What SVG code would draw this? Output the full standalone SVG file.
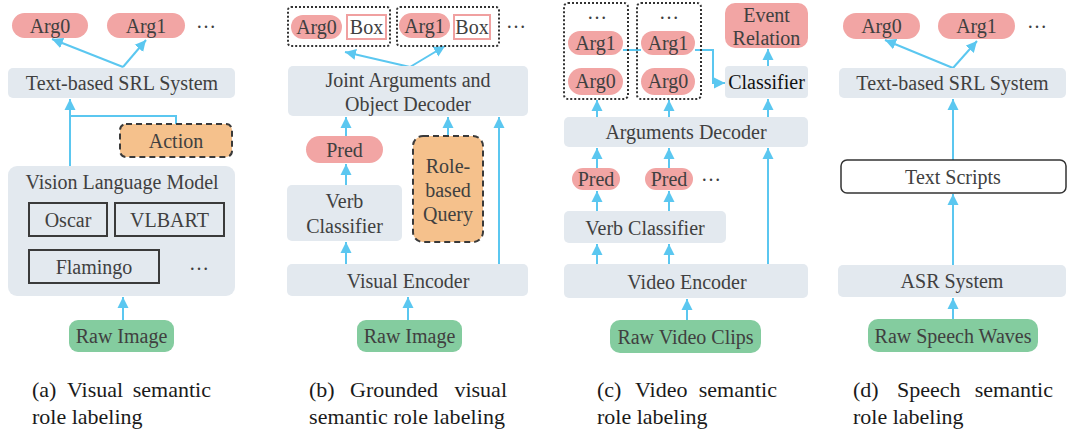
<svg xmlns="http://www.w3.org/2000/svg" width="1067" height="432" viewBox="0 0 1067 432">
<style>
text{font-family:"Liberation Serif","Times New Roman",serif;font-size:20px;fill:#404040;text-anchor:middle}
.cap{font-size:22px;fill:#1a1a1a;text-anchor:start}
.end{text-anchor:end}
.box{fill:#e3e9ef}
.pill{fill:#f2a5a4}
.green{fill:#84cc9f}
.orange{fill:#f5c18c;stroke:#3a3a3a;stroke-width:2;stroke-dasharray:6 4}
.frame{fill:none;stroke:#3a3a3a;stroke-width:2}
.dot{fill:none;stroke:#333;stroke-width:2;stroke-dasharray:2 2}
.obox{fill:#fff;stroke:#f0a0a0;stroke-width:2}
.white{fill:#fff;stroke:#333;stroke-width:1.5}
.c{fill:none;stroke:#5bc7f0;stroke-width:2}
.a{marker-end:url(#ah)}
</style>
<defs>
<marker id="ah" markerUnits="userSpaceOnUse" markerWidth="12" markerHeight="12" viewBox="0 0 12 12" refX="11" refY="6" orient="auto">
<path d="M0,0.5 L11,6 L0,11.5 z" fill="#5bc7f0"/>
</marker>
</defs>

<g id="connectors">
<!-- (a) -->
<path class="c a" d="M123,67 L52,39"/>
<path class="c a" d="M123,67 L146,40"/>
<path class="c a" d="M70,166 L70,99"/>
<path class="c" d="M176,124 L176,116 L70,116"/>
<path class="c a" d="M123,320 L123,297"/>
<!-- (b) -->
<path class="c a" d="M410,67 L345,52"/>
<path class="c a" d="M410,67 L445,46"/>
<path class="c a" d="M346,136 L346,117"/>
<path class="c a" d="M448,136 L448,117"/>
<path class="c a" d="M499,264 L499,117"/>
<path class="c a" d="M346,185 L346,164"/>
<path class="c a" d="M346,264 L346,242"/>
<path class="c a" d="M408,320 L408,297"/>
<!-- (c) -->
<path class="c" d="M623,50 L641,50"/>
<path class="c a" d="M695,50 L713,50 L713,83 L725,83"/>
<path class="c a" d="M768,66 L768,49"/>
<path class="c a" d="M597,117 L597,100"/>
<path class="c a" d="M669,117 L669,100"/>
<path class="c a" d="M768,117 L768,99"/>
<path class="c a" d="M597,168 L597,148"/>
<path class="c a" d="M669,168 L669,148"/>
<path class="c a" d="M768,264 L768,148"/>
<path class="c a" d="M597,211 L597,191"/>
<path class="c a" d="M669,211 L669,191"/>
<path class="c a" d="M597,264 L597,244"/>
<path class="c a" d="M669,264 L669,244"/>
<path class="c a" d="M687,320 L687,299"/>
<!-- (d) -->
<path class="c a" d="M953,68 L885,40"/>
<path class="c a" d="M953,68 L977,41"/>
<path class="c a" d="M953,160 L953,99"/>
<path class="c a" d="M953,265 L953,194"/>
<path class="c a" d="M953,319 L953,298"/>
</g>

<!-- Panel (a) -->
<g id="a-arg0"><rect class="pill" x="12" y="13" width="76" height="25" rx="12.5"/><text x="50" y="33">Arg0</text></g>
<g id="a-arg1"><rect class="pill" x="107" y="13" width="78" height="25" rx="12.5"/><text x="146" y="33">Arg1</text></g>
<g id="a-dots"><text x="206" y="28">…</text></g>
<g id="a-srl"><rect class="box" x="8" y="68" width="227" height="30" rx="5"/><text x="122" y="90">Text-based SRL System</text></g>
<g id="a-action"><rect class="orange" x="120" y="124" width="112" height="33" rx="6"/><text x="176" y="148">Action</text></g>
<g id="a-vlm"><rect class="box" x="8" y="166" width="227" height="130" rx="9"/><text x="122" y="189">Vision Language Model</text></g>
<g id="a-oscar"><rect class="frame" x="29" y="203" width="78" height="33"/><text x="68" y="227">Oscar</text></g>
<g id="a-vlbart"><rect class="frame" x="115" y="203" width="109" height="33"/><text x="169.5" y="227">VLBART</text></g>
<g id="a-flamingo"><rect class="frame" x="29" y="250" width="130" height="33"/><text x="94" y="274">Flamingo</text></g>
<g id="a-dots2"><text x="199" y="270">…</text></g>
<g id="a-raw"><rect class="green" x="69" y="320" width="105" height="32" rx="9"/><text x="121.5" y="343">Raw Image</text></g>
<g id="a-cap">
<text class="cap" x="32" y="397">(a)</text><text class="cap" x="67" y="397">Visual</text><text class="cap end" x="211" y="397">semantic</text>
<text class="cap" x="32" y="424">role labeling</text>
</g>

<!-- Panel (b) -->
<g id="b-grp0"><rect class="dot" x="288" y="7" width="102" height="39" rx="3"/>
<rect class="pill" x="291" y="15" width="51" height="24" rx="12"/><text x="316.5" y="34">Arg0</text>
<rect class="obox" x="347" y="15" width="39" height="24"/><text x="366.5" y="34">Box</text></g>
<g id="b-grp1"><rect class="dot" x="397" y="7" width="102" height="39" rx="3"/>
<rect class="pill" x="399" y="13" width="51" height="25" rx="12.5"/><text x="424.5" y="33">Arg1</text>
<rect class="obox" x="454" y="15" width="36" height="24"/><text x="472" y="34">Box</text></g>
<g id="b-dots"><text x="516" y="28">…</text></g>
<g id="b-decoder"><rect class="box" x="288" y="66" width="240" height="50" rx="5"/><text x="408" y="87">Joint Arguments and</text><text x="408" y="111">Object Decoder</text></g>
<g id="b-pred"><rect class="pill" x="306" y="136" width="77" height="27" rx="13.5"/><text x="344.5" y="157">Pred</text></g>
<g id="b-query"><rect class="orange" x="413" y="136" width="70" height="106" rx="10"/><text x="448" y="173">Role-</text><text x="448" y="197">based</text><text x="448" y="221">Query</text></g>
<g id="b-verb"><rect class="box" x="287" y="185" width="115" height="56" rx="5"/><text x="344.5" y="208">Verb</text><text x="344.5" y="233">Classifier</text></g>
<g id="b-encoder"><rect class="box" x="287" y="264" width="241" height="32" rx="5"/><text x="408" y="288">Visual Encoder</text></g>
<g id="b-raw"><rect class="green" x="357" y="320" width="105" height="32" rx="9"/><text x="409.5" y="343">Raw Image</text></g>
<g id="b-cap">
<text class="cap" x="309" y="397">(b)</text><text class="cap" x="350" y="397">Grounded</text><text class="cap end" x="507" y="397">visual</text>
<text class="cap" x="309" y="424" textLength="196">semantic role labeling</text>
</g>

<!-- Panel (c) -->
<g id="c-grp0"><rect class="dot" x="564" y="3" width="64" height="96" rx="4"/><text x="597" y="19">…</text>
<rect class="pill" x="568" y="31" width="55" height="24" rx="12"/><text x="595.5" y="50">Arg1</text>
<rect class="pill" x="568" y="68" width="55" height="27" rx="13.5"/><text x="595.5" y="88">Arg0</text></g>
<g id="c-grp1"><rect class="dot" x="637" y="3" width="64" height="96" rx="4"/><text x="669" y="19">…</text>
<rect class="pill" x="641" y="31" width="54" height="24" rx="12"/><text x="668" y="50">Arg1</text>
<rect class="pill" x="641" y="68" width="54" height="27" rx="13.5"/><text x="668" y="88">Arg0</text></g>
<g id="c-event"><rect class="pill" x="725" y="3" width="83" height="45" rx="10"/><text x="766.5" y="22">Event</text><text x="766.5" y="45">Relation</text></g>
<g id="c-classifier"><rect class="box" x="725" y="66" width="83" height="32" rx="4"/><text x="766.5" y="89" style="fill:#111">Classifier</text></g>
<g id="c-decoder"><rect class="box" x="564" y="117" width="244" height="30" rx="5"/><text x="686" y="139">Arguments Decoder</text></g>
<g id="c-pred0"><rect class="pill" x="572" y="168" width="48" height="22" rx="11"/><text x="596" y="186">Pred</text></g>
<g id="c-pred1"><rect class="pill" x="645" y="168" width="48" height="22" rx="11"/><text x="669" y="186">Pred</text></g>
<g id="c-dots"><text x="711" y="181">…</text></g>
<g id="c-verb"><rect class="box" x="564" y="211" width="162" height="32" rx="5"/><text x="645" y="235">Verb Classifier</text></g>
<g id="c-encoder"><rect class="box" x="564" y="264" width="244" height="34" rx="5"/><text x="687" y="289">Video Encoder</text></g>
<g id="c-raw"><rect class="green" x="610" y="320" width="151" height="33" rx="10"/><text x="685.5" y="344">Raw Video Clips</text></g>
<g id="c-cap">
<text class="cap" x="597" y="397">(c)</text><text class="cap" x="635" y="397">Video</text><text class="cap end" x="777" y="397">semantic</text>
<text class="cap" x="597" y="424">role labeling</text>
</g>

<!-- Panel (d) -->
<g id="d-arg0"><rect class="pill" x="843" y="13" width="77" height="26" rx="13"/><text x="881.5" y="33">Arg0</text></g>
<g id="d-arg1"><rect class="pill" x="938" y="13" width="77" height="26" rx="13"/><text x="976.5" y="33">Arg1</text></g>
<g id="d-dots"><text x="1037" y="28">…</text></g>
<g id="d-srl"><rect class="box" x="839" y="68" width="227" height="30" rx="5"/><text x="952.5" y="90">Text-based SRL System</text></g>
<g id="d-scripts"><rect class="white" x="841" y="160" width="225" height="33" rx="6"/><text x="953" y="184">Text Scripts</text></g>
<g id="d-asr"><rect class="box" x="838" y="265" width="228" height="32" rx="5"/><text x="952" y="288">ASR System</text></g>
<g id="d-raw"><rect class="green" x="868" y="319" width="170" height="33" rx="10"/><text x="953" y="343">Raw Speech Waves</text></g>
<g id="d-cap">
<text class="cap" x="853" y="397">(d)</text><text class="cap" x="897" y="397">Speech</text><text class="cap end" x="1053" y="397">semantic</text>
<text class="cap" x="853" y="424">role labeling</text>
</g>
</svg>
